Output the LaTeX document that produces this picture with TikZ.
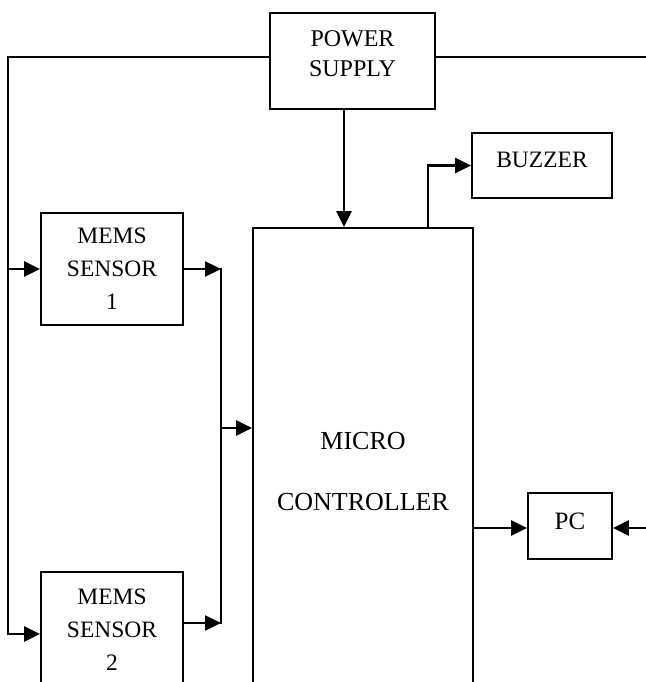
\documentclass[tikz,border=0pt]{standalone}
\usepackage{fontspec}
\setmainfont{Liberation Serif}
\usetikzlibrary{arrows.meta, calc}
\tikzset{
	blockbox/.style={draw, line width=1.8pt, inner sep=0pt, align=center}
}
\tikzset{
	blocktext/.style={font=\fontsize{23.5}{33}\selectfont, align=center}
}
\tikzset{
	linkhead/.style={line width=2.4pt, -{Triangle[length=16pt,width=15pt]}}
}
\tikzset{
	plainlink/.style={line width=1.9pt, line cap=rect}
}
\begin{document}
\begin{tikzpicture}[x=1pt, y=-1pt]
	\useasboundingbox (0,0) rectangle (645,682);

	\begin{scope}
		\node[blockbox, minimum width=165pt, minimum height=96pt] (power) at (352.5,61) {};
		\node[blockbox, minimum width=140pt, minimum height=65pt] (buzzer) at (542,165.5) {};
		\node[blockbox, blocktext, minimum width=142pt, minimum height=112pt] (s1) at (112,269) {MEMS\\SENSOR\\1};
		\node[blockbox, blocktext, minimum width=142pt, minimum height=116pt] (s2) at (112,630) {MEMS\\SENSOR\\2};
		\node[blockbox, minimum width=220pt, minimum height=487pt, font=\fontsize{26}{61}\selectfont] (mc) at (363,471.5) {MICRO\\CONTROLLER};
		\node[blockbox, minimum width=84pt, minimum height=66pt] (pc) at (570,526) {};

		\node[blocktext, font=\fontsize{24}{30}\selectfont] (powertxt) at (352.5,54) {POWER\\SUPPLY};
		\node[blocktext] (buzzertxt) at (542,160) {BUZZER};
		\node[blocktext, font=\fontsize{25}{30}\selectfont] (pctxt) at (570,521) {PC};
	\end{scope}

	\begin{scope}
		\coordinate (tl) at (8,57);
		\coordinate (tr) at (647,57);
		\coordinate (bl) at (8,634);
		\coordinate (j1) at (221,269);
		\coordinate (j2) at (221,623);
		\coordinate (jm) at (221,428);
		\coordinate (bz) at (428,228);
		\coordinate (pin) at (344,109);
		\coordinate (pr) at (647,528);

		\draw[plainlink] (power.west |- tl) -- (tl) -- (bl);
		\draw[plainlink] (power.east |- tl) -- (tr);
		\draw[linkhead] (tl |- s1.west) -- (s1.west);
		\draw[linkhead] (bl) -- (bl -| s2.west);

		\draw[linkhead] (pin) -- (pin |- mc.north);
		\draw[linkhead] (bz) |- (buzzer.west);

		\draw[linkhead] (s1.east) -- (j1);
		\draw[linkhead] (s2.east |- j2) -- (j2);
		\draw[plainlink] (j1) -- (j2);
		\draw[linkhead] (jm) -- (jm -| mc.west);

		\draw[linkhead] (mc.east |- pr) -- (pc.west |- pr);
		\draw[linkhead] (pr) -- (pc.east |- pr);
	\end{scope}

\end{tikzpicture}
\end{document}
